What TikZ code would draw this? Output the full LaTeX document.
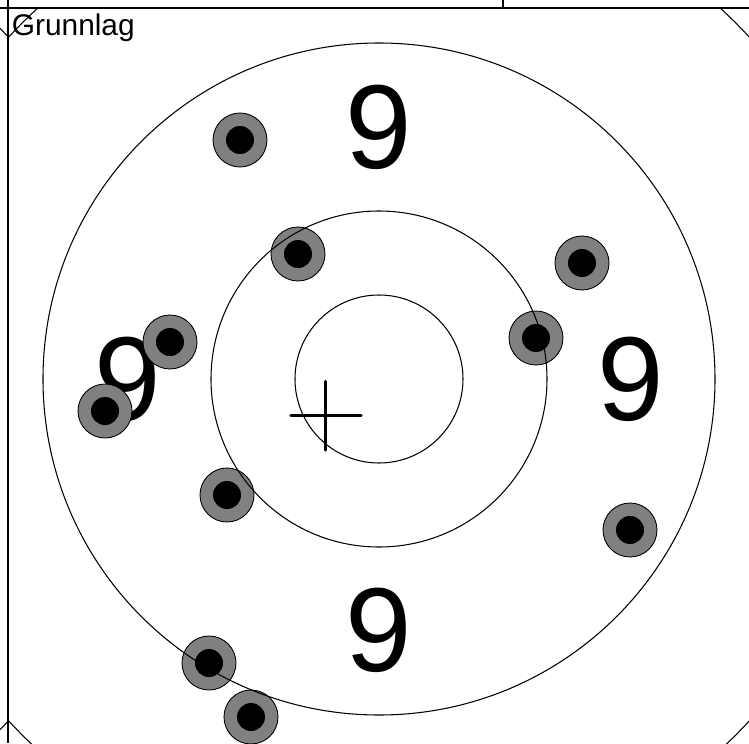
\documentclass[tikz,border=0pt]{standalone}
\usepackage{fontspec}
\setmainfont{Liberation Sans}
\tikzset{
  ring/.style={black, line width=0.6pt},
  frm/.style={black, line width=1.2pt},
  hit/.style={draw=black, fill=gray, line width=0.5pt},
  hitc/.style={fill=black},
  rnum/.style={font=\fontsize{68}{68}\selectfont, inner sep=0pt},
  aim/.style={black, line width=1.9pt, line cap=round},
  ttl/.style={font=\fontsize{17}{19}\selectfont, inner sep=0pt, anchor=base west},
}

\begin{document}
\begin{tikzpicture}
        \useasboundingbox (-7.58,-7.28) rectangle (7.40,7.58);
        % target panel
        \begin{scope}
          \clip (-7.42,-7.28) rectangle (7.40,7.42);
          \node[rnum] (n9t) at (0,5.03) {9};
          \node[rnum] (n9l) at (-5.03,0) {9};
          \node[rnum] (n9r) at (5.03,0) {9};
          \node[rnum] (n9b) at (0,-5.03) {9};
          \foreach \sx/\sy in {-2.78/4.78, -1.62/2.50, 4.06/2.32, -4.18/0.74, 3.14/0.82,
                               -5.48/-0.64, -3.04/-2.32, 5.02/-3.02, -3.40/-5.68, -2.56/-6.76} {
            \filldraw[hit] (\sx,\sy) circle (0.54);
            \fill[hitc] (\sx,\sy) circle (0.28);
          }
          \coordinate (mid) at (0,0);
          \draw[aim] (-1.76,-0.73) -- (-0.36,-0.73);
          \draw[aim] (-1.07,-0.05) -- (-1.07,-1.42);
          \foreach \r in {1.68,3.36,6.72,10.08}
            \draw[ring] (mid) circle (\r);
        \end{scope}
        % neighbour panel
        \begin{scope}
          \clip (-7.58,-7.28) rectangle (-7.42,7.42);
          \draw[ring] (-14.82,0) circle (10.08);
        \end{scope}
        % frame
        \draw[frm] (-7.42,7.58) -- (-7.42,-7.28);
        \draw[frm] (-7.58,7.42) -- (7.40,7.42);
        \draw[frm] (2.48,7.58) -- (2.48,7.42);
        \node[ttl] (grunn) at (-7.35,6.87) {Grunnlag};
      \end{tikzpicture}
\end{document}
